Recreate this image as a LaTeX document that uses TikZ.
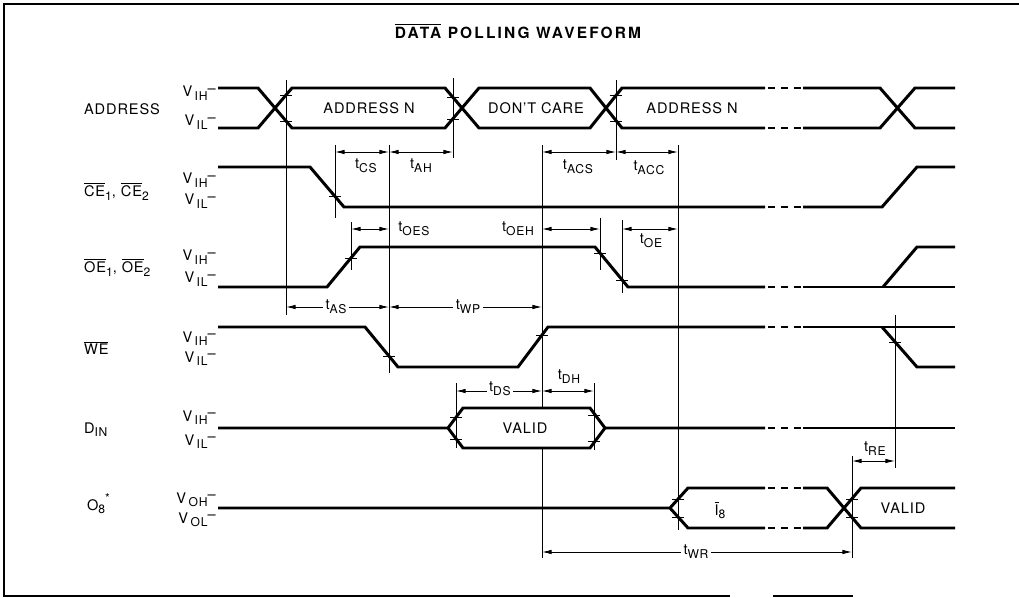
\documentclass[tikz,border=0pt]{standalone}
\usepackage{fontspec}
\setmainfont{TeX Gyre Heros}[LetterSpace=6]
\usetikzlibrary{arrows.meta}

\begin{document}
\begin{tikzpicture}[x=0.02cm,y=-0.02cm]

\def\xs{218}
\def\xe{955}
\def\bra{765}
\def\brb{803}
\def\sub#1{\raisebox{-.5ex}{\fontsize{6.9}{8}\selectfont #1}}
\def\tm#1{t\sub{#1}}
\def\lv#1{V\,\sub{#1}\raisebox{.45ex}{--}}
\def\tk(#1,#2){\draw[thin] (#1-6,#2) -- (#1+6,#2);}

\tikzset{sig/.style = {line width=1.7pt},
         thin/.style = {line width=0.5pt},
         dim/.style = {thin, >={Latex[length=5.5pt,width=2.6pt]}, <->},
         brk/.style = {line width=1.7pt, dash pattern=on 4pt off 3.4pt},
         lbl/.style = {font=\fontsize{8.3}{10}\selectfont, inner sep=1pt},
         sname/.style = {lbl, anchor=base west},
         lvl/.style = {lbl, anchor=base east, inner sep=0pt},
         cut/.style = {lbl, fill=white, inner sep=1.5pt}}

\useasboundingbox (0,0) rectangle (1019,598);

% frame
\draw[line width=1pt] (1019,4) -- (4,4) -- (4,596) -- (730,596);
\draw[line width=1pt] (773,596) -- (853,596);

\node[font=\fontsize{8.8}{11}\selectfont\bfseries\addfontfeature{LetterSpace=14}] (T0) at (518,31) {$\overline{\mbox{DATA}}$ POLLING WAVEFORM};

% signal names
\node[sname] (S1) at (82,115) {ADDRESS};
\node[sname] (S2) at (82,197) {$\overline{\mbox{CE}}$\sub{1}, $\overline{\mbox{CE}}$\sub{2}};
\node[sname] (S3) at (82,273) {$\overline{\mbox{OE}}$\sub{1}, $\overline{\mbox{OE}}$\sub{2}};
\node[sname] (S4) at (82,355) {$\overline{\mbox{WE}}$};
\node[sname] (S5) at (82,433) {D\sub{IN}};
\node[sname] (S6) at (85,510) {O\sub{8}\raisebox{1ex}{\fontsize{6.9}{8}\selectfont *}};

% levels
\node[lvl] (S1H) at (216,97)  {\lv{IH}};
\node[lvl] (S1L) at (216,126) {\lv{IL}};
\node[lvl] (S2H) at (216,184) {\lv{IH}};
\node[lvl] (S2L) at (216,205) {\lv{IL}};
\node[lvl] (S3H) at (216,261) {\lv{IH}};
\node[lvl] (S3L) at (216,283) {\lv{IL}};
\node[lvl] (S4H) at (216,342) {\lv{IH}};
\node[lvl] (S4L) at (216,362) {\lv{IL}};
\node[lvl] (S5H) at (216,421) {\lv{IH}};
\node[lvl] (S5L) at (216,445) {\lv{IL}};
\node[lvl] (S6H) at (216,503) {\lv{OH}};
\node[lvl] (S6L) at (216,523) {\lv{OL}};

% ADDRESS
\draw[sig] (\xs,88) -- (258,88) -- (292,128) -- (445,128) -- (479,88) -- (590,88) -- (622,128) -- (\bra,128);
\draw[sig] (\xs,128) -- (258,128) -- (292,88) -- (445,88) -- (479,128) -- (590,128) -- (622,88) -- (\bra,88);
\draw[sig] (\brb,128) -- (880,128) -- (915,88) -- (\xe,88);
\draw[sig] (\brb,88) -- (880,88) -- (915,128) -- (\xe,128);
\draw[brk] (768,88) -- (801,88);
\draw[brk] (768,128) -- (801,128);
\node[lbl] (B1) at (369,108) {ADDRESS N};
\node[lbl] (B2) at (536,108) {DON'T CARE};
\node[lbl] (B3) at (692,108) {ADDRESS N};

% CE
\draw[sig] (\xs,167) -- (310,167) -- (344,207) -- (\bra,207);
\draw[sig] (\brb,207) -- (882,207) -- (917,167) -- (\xe,167);
\draw[brk] (768,207) -- (801,207);

% OE
\draw[sig] (\xs,287) -- (327,287) -- (360,247) -- (595,247) -- (628,287) -- (\bra,287);
\draw[sig] (\brb,287) -- (\xe,287);
\draw[sig] (883,287) -- (917,247) -- (\xe,247);
\draw[brk] (768,287) -- (801,287);

% WE
\draw[sig] (\xs,327) -- (365,327) -- (398,367) -- (518,367) -- (548,327) -- (\bra,327);
\draw[sig] (\brb,327) -- (\xe,327);
\draw[sig] (882,327) -- (917,367) -- (\xe,367);
\draw[brk] (768,327) -- (801,327);

% DIN
\draw[sig] (\xs,428) -- (448,428) -- (463,408) -- (590,408) -- (605,428) -- (\bra,428);
\draw[sig] (448,428) -- (463,448) -- (590,448) -- (605,428);
\draw[sig] (\brb,428) -- (\xe,428);
\draw[brk] (768,428) -- (801,428);
\node[lbl] (B4) at (525,428) {VALID};

% O8
\draw[sig] (\xs,508) -- (670,508) -- (688,488) -- (\bra,488);
\draw[sig] (670,508) -- (688,528) -- (\bra,528);
\draw[sig] (\brb,488) -- (827,488) -- (861,528) -- (\xe,528);
\draw[sig] (\brb,528) -- (827,528) -- (861,488) -- (\xe,488);
\draw[brk] (768,488) -- (801,488);
\draw[brk] (768,528) -- (801,528);
\node[lbl] (B5) at (720,510) {$\overline{\mbox{I}}$\sub{8}};
\node[lbl] (B6) at (903,508) {VALID};

% reference lines
\draw[thin] (286,80) -- (286,315);
\draw[thin] (335,145) -- (335,218);
\draw[thin] (389,145) -- (389,373);
\draw[thin] (453,78) -- (453,158);
\draw[thin] (616,80) -- (616,160);
\draw[thin] (542,145) -- (542,408);
\draw[thin] (542,448) -- (542,558);
\draw[thin] (678,145) -- (678,530);
\draw[thin] (351,222) -- (351,270);
\draw[thin] (600,218) -- (600,270);
\draw[thin] (622,220) -- (622,293);
\draw[thin] (456,383) -- (456,448);
\draw[thin] (594,383) -- (594,450);
\draw[thin] (852,456) -- (852,558);
\draw[thin] (895,315) -- (895,468);

% ticks
\tk(286,95) \tk(286,121)
\tk(453,97) \tk(453,119)
\tk(616,95) \tk(616,121)
\tk(335,196)
\tk(351,258) \tk(600,253) \tk(622,280)
\tk(389,356) \tk(542,335) \tk(895,342)
\tk(456,417) \tk(456,439) \tk(594,415) \tk(594,441)
\tk(678,499) \tk(678,517) \tk(852,499) \tk(852,517)

% timing
\draw[dim] (335,152) -- (389,152);
\draw[dim] (389,152) -- (453,152);
\draw[dim] (542,152) -- (616,152);
\draw[dim] (616,152) -- (678,152);
\node[lbl] (T1) at (366,166) {\tm{CS}};
\node[lbl] (T2) at (421,166) {\tm{AH}};
\node[lbl] (T3) at (578,167) {\tm{ACS}};
\node[lbl] (T4) at (649,168) {\tm{ACC}};

\draw[dim] (351,229) -- (389,229);
\draw[dim] (542,229) -- (600,229);
\draw[dim] (622,229) -- (678,229);
\node[lbl] (T5) at (414,229) {\tm{OES}};
\node[lbl] (T6) at (518,229) {\tm{OEH}};
\node[lbl] (T7) at (651,241) {\tm{OE}};

\draw[dim] (286,307) -- (389,307);
\draw[dim] (389,307) -- (542,307);
\node[cut] (T8) at (336,307) {\tm{AS}};
\node[cut] (T9) at (468,307) {\tm{WP}};

\draw[dim] (456,391) -- (542,391);
\draw[dim] (542,391) -- (594,391);
\node[cut] (T10) at (500,389) {\tm{DS}};
\node[lbl] (T11) at (569,377) {\tm{DH}};

\draw[dim] (852,461) -- (895,461);
\node[lbl] (T12) at (875,449) {\tm{RE}};

\draw[dim] (542,552) -- (852,552);
\node[cut] (T13) at (696,552) {\tm{WR}};

\end{tikzpicture}
\end{document}
